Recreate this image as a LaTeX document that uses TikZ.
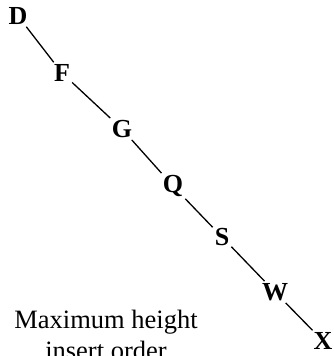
\documentclass[tikz,border=0pt]{standalone}
\usepackage{fontspec}
\setmainfont{Liberation Serif}
\usetikzlibrary{positioning}

\begin{document}
\begin{tikzpicture}[x=1pt, y=-1pt,
    key/.style={font=\fontsize{26}{30}\selectfont\bfseries, inner sep=2pt},
    link/.style={draw=black, line width=1.3pt},
    caption/.style={font=\fontsize{26.5}{31}\selectfont, align=center, inner sep=0pt}
]
\useasboundingbox (0,0) rectangle (334,356);

% Keys in insert order
\node[key] (d) at (18,16) {D};
\node[key] (f) at (62,73) {F};
\node[key] (g) at (122,129) {G};
\node[key] (q) at (173,186) {Q};
\node[key] (s) at (222,237) {S};
\node[key] (w) at (275,292) {W};
\node[key] (x) at (323,341) {X};

% Chain
\draw[link] (d) -- (f);
\draw[link] (f) -- (g);
\draw[link] (g) -- (q);
\draw[link] (q) -- (s);
\draw[link] (s) -- (w);
\draw[link] (w) -- (x);

% Caption
\node[caption, anchor=north] (cap) at (106,310) {Maximum height\\insert order};

\end{tikzpicture}
\end{document}
